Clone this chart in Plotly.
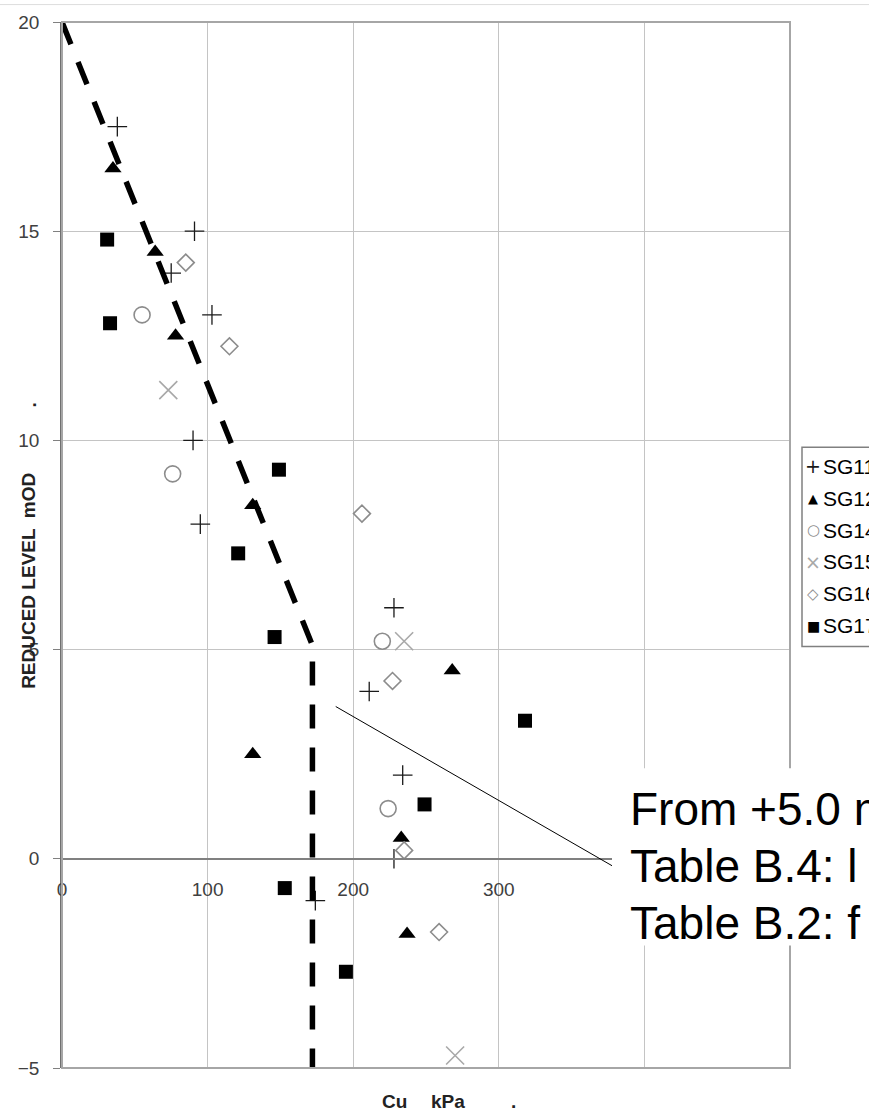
import plotly.graph_objects as go

# ---------------- data ----------------
sg11_cu = [38, 91, 75, 103, 90, 95, 228, 211, 234, 228, 174]
sg11_rl = [17.5, 15.0, 14.0, 13.0, 10.0, 8.0, 6.0, 4.0, 2.0, 0.0, -1.0]

sg12_cu = [35, 64, 78, 131, 268, 131, 233, 237]
sg12_rl = [16.5, 14.5, 12.5, 8.45, 4.5, 2.5, 0.5, -1.8]

sg14_cu = [55, 76, 220, 224]
sg14_rl = [13.0, 9.2, 5.2, 1.2]

sg15_cu = [73, 235, 270]
sg15_rl = [11.2, 5.2, -4.7]

sg16_cu = [85, 115, 206, 227, 235, 259]
sg16_rl = [14.25, 12.25, 8.25, 4.25, 0.2, -1.75]

sg17_cu = [31, 33, 149, 121, 146, 318, 249, 153, 195]
sg17_rl = [14.8, 12.8, 9.3, 7.3, 5.3, 3.3, 1.3, -0.7, -2.7]

design_cu = [0, 172, 172]
design_rl = [20, 5.1, -5]

leader_cu = [188, 378]
leader_rl = [3.64, -0.17]

x_ticks = [0, 100, 200, 300, 400, 500]
x_ticktext = ["0", "100", "200", "300", "", ""]   # 400/500 hidden behind the note box
y_ticks = [-5, 0, 5, 10, 15, 20]

series_names = ["SG11", "SG12", "SG14", "SG15", "SG16", "SG17"]
legend_glyphs = ["+", "\u25B2", "\u25CB", "\u00D7", "\u25C7", "\u25A0"]
note_lines = ["From +5.0 m", "Table B.4: l", "Table B.2: f"]

# ---------------- layout helpers ----------------
W, H = 869, 1112
L, R, T, B = 62, 790, 18, 1068
FONT = "Liberation Sans, Arial, sans-serif"


def fx(px):
    return (px - L) / (R - L)


def fy(py):
    return (B - py) / (B - T)


fig = go.Figure()

styles = [
    dict(symbol="cross-thin-open", size=14, color="#1a1a1a", line=dict(width=1.3, color="#1a1a1a")),
    dict(symbol="triangle-up", size=15, color="black", line=dict(width=0)),
    dict(symbol="circle-open", size=16, color="#8c8c8c", line=dict(width=1.6, color="#8c8c8c")),
    dict(symbol="x-thin-open", size=18, color="#a8a8a8", line=dict(width=1.6, color="#a8a8a8")),
    dict(symbol="diamond-open", size=13, color="#8c8c8c", line=dict(width=1.6, color="#8c8c8c")),
    dict(symbol="square", size=14, color="black", line=dict(width=0)),
]
datasets = [
    (sg11_cu, sg11_rl), (sg12_cu, sg12_rl), (sg14_cu, sg14_rl),
    (sg15_cu, sg15_rl), (sg16_cu, sg16_rl), (sg17_cu, sg17_rl),
]
for name, (xs, ys), st in zip(series_names, datasets, styles):
    fig.add_trace(go.Scatter(x=xs, y=ys, mode="markers", name=name,
                             marker=st, showlegend=False))

fig.add_trace(go.Scatter(x=design_cu, y=design_rl, mode="lines", showlegend=False,
                         line=dict(color="black", width=5.5, dash="24px,19px")))

shapes = []
# plot frame
shapes.append(dict(type="rect", xref="paper", yref="paper", x0=0, x1=1, y0=0, y1=1,
                   line=dict(color="#a6a6a6", width=2), fillcolor="rgba(0,0,0,0)"))
# faint top rule of the picture
shapes.append(dict(type="line", xref="paper", yref="paper", x0=fx(0), x1=fx(W),
                   y0=fy(0.5), y1=fy(0.5), line=dict(color="#dddddd", width=1)))
# leader line
shapes.append(dict(type="line", xref="x", yref="y", x0=leader_cu[0], y0=leader_rl[0],
                   x1=leader_cu[1], y1=leader_rl[1], line=dict(color="black", width=1)))
# white text box of the note
shapes.append(dict(type="rect", xref="paper", yref="paper", x0=fx(612), x1=fx(910),
                   y0=fy(945), y1=fy(767), line=dict(width=0), fillcolor="white"))
# legend box
shapes.append(dict(type="rect", xref="paper", yref="paper", x0=fx(802), x1=fx(920),
                   y0=fy(645), y1=fy(445), line=dict(color="#808080", width=1.5),
                   fillcolor="white"))

annotations = []
glyph_colors = ["#1a1a1a", "black", "#8c8c8c", "#a8a8a8", "#8c8c8c", "black"]
glyph_sizes = [19, 13, 15, 19, 15, 14]
for i, (nm, g, c, gs) in enumerate(zip(series_names, legend_glyphs, glyph_colors, glyph_sizes)):
    yy = fy(464 + 32 * i)
    annotations.append(dict(
        xref="paper", yref="paper", x=fx(813), y=yy,
        xanchor="center", yanchor="middle", showarrow=False, text=g,
        font=dict(family="DejaVu Sans, " + FONT, size=gs, color=c)))
    annotations.append(dict(
        xref="paper", yref="paper", x=fx(821), y=yy,
        xanchor="left", yanchor="middle", showarrow=False, text=nm,
        font=dict(family=FONT, size=21, color="black")))

for i, line in enumerate(note_lines):
    annotations.append(dict(
        xref="paper", yref="paper", x=fx(628), y=fy(808 + 57 * i),
        xanchor="left", yanchor="middle", showarrow=False, text=line,
        font=dict(family=FONT, size=46, color="black")))

# axis titles
annotations.append(dict(xref="paper", yref="paper", x=fx(29), y=fy(579),
                        xanchor="center", yanchor="middle", textangle=-90, showarrow=False,
                        text="<b>REDUCED LEVEL  mOD</b>",
                        font=dict(family=FONT, size=19, color="#222")))
annotations.append(dict(xref="paper", yref="paper", x=fx(30), y=fy(403),
                        xanchor="center", yanchor="middle", textangle=-90, showarrow=False,
                        text="<b>.</b>", font=dict(family=FONT, size=19, color="#222")))
annotations.append(dict(xref="paper", yref="paper", x=fx(380), y=fy(1102),
                        xanchor="left", yanchor="middle", showarrow=False,
                        text="<b>Cu</b>", font=dict(family=FONT, size=19, color="#222")))
annotations.append(dict(xref="paper", yref="paper", x=fx(429), y=fy(1102),
                        xanchor="left", yanchor="middle", showarrow=False,
                        text="<b>kPa</b>", font=dict(family=FONT, size=19, color="#222")))
annotations.append(dict(xref="paper", yref="paper", x=fx(513), y=fy(1102),
                        xanchor="center", yanchor="middle", showarrow=False,
                        text="<b>.</b>", font=dict(family=FONT, size=19, color="#222")))

fig.update_layout(
    width=W, height=H,
    margin=dict(l=L, r=W - R, t=T, b=H - B, pad=0),
    paper_bgcolor="white", plot_bgcolor="white",
    showlegend=False,
    shapes=shapes, annotations=annotations,
    xaxis=dict(range=[0, 500], tickvals=x_ticks, ticktext=x_ticktext,
               showgrid=True, gridcolor="#c4c4c4", gridwidth=1,
               zeroline=False, showline=True, linecolor="#808080", linewidth=1.5,
               anchor="free", position=fy(858.5), ticks="", ticklabelstandoff=13,
               tickfont=dict(family=FONT, size=19, color="#404040")),
    yaxis=dict(range=[-5, 20], tickvals=y_ticks,
               showgrid=True, gridcolor="#c4c4c4", gridwidth=1,
               zeroline=False, showline=True, linecolor="#707070", linewidth=1.5,
               ticks="outside", ticklen=7, tickcolor="#808080", ticklabelstandoff=10,
               tickfont=dict(family=FONT, size=19, color="#404040")),
)

fig.write_html("out.html")
